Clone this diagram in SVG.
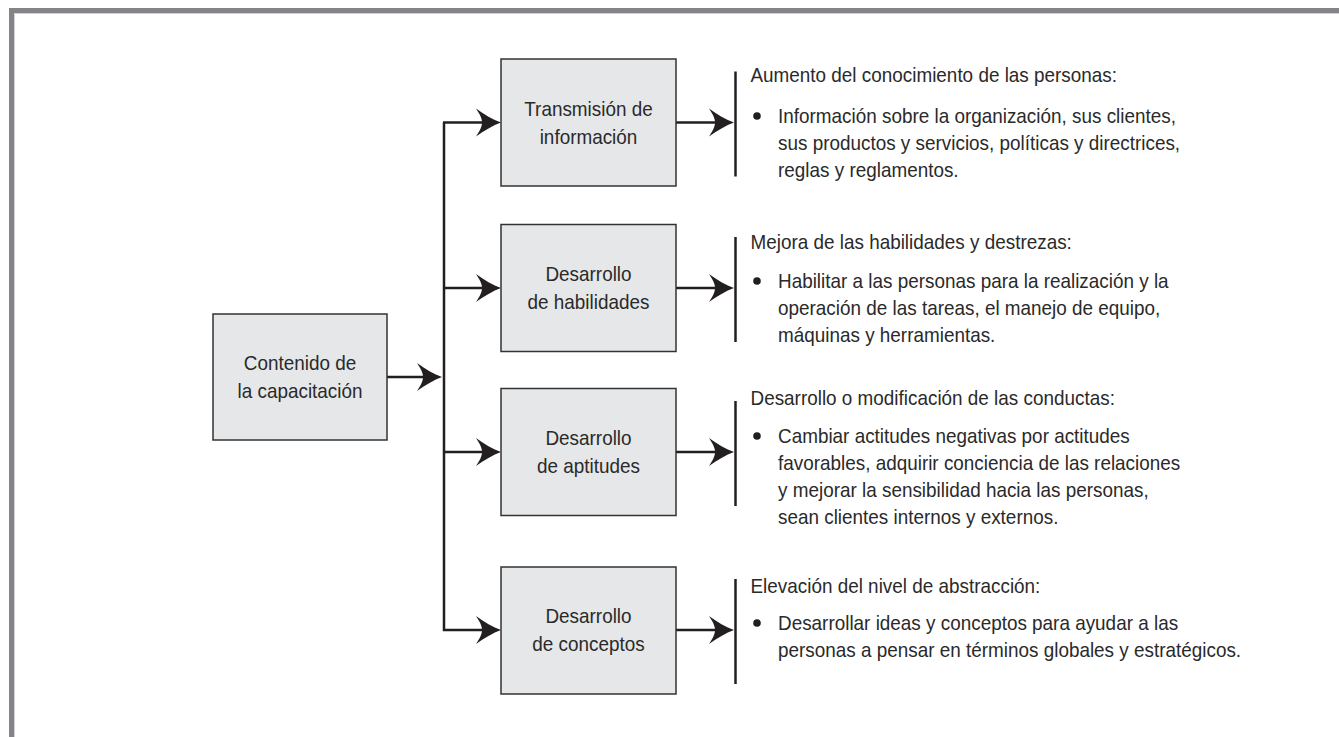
<svg xmlns="http://www.w3.org/2000/svg" width="1339" height="737" viewBox="0 0 1339 737">
<style>
.box{fill:#e6e7e8;stroke:#333;stroke-width:1.5}
.ln{fill:none;stroke:#231f20;stroke-width:2.5}
.bar{stroke:#231f20;stroke-width:2.5}
.t{font-family:"Liberation Sans",Arial,sans-serif;font-size:21px;fill:#2a2a2a}
.c{text-anchor:middle}
.dot{fill:#231f20}
</style>
<defs>
<marker id="ah" markerUnits="userSpaceOnUse" markerWidth="30" markerHeight="30" refX="15" refY="0" orient="auto" overflow="visible">
<path d="M25,0 C17,-3 8,-8 0,-14 C4,-8 6,-4 6,0 C6,4 4,8 0,14 C8,8 17,3 25,0 Z" fill="#231f20"/>
</marker>
</defs>
<rect width="1339" height="737" fill="#fff"/>
<g id="frame">
<path d="M11.5,737 V10.5 H1339" fill="none" stroke="#848488" stroke-width="5"/>
<path d="M14.5,737 V13.5 H1339" fill="none" stroke="#d0d0d2" stroke-width="1"/>
</g>
<g id="connectors">
<line class="ln" x1="387" y1="377" x2="432" y2="377" marker-end="url(#ah)"/>
<path class="ln" d="M444,122.5 V630 H491" marker-end="url(#ah)"/>
<line class="ln" x1="443" y1="122.5" x2="491" y2="122.5" marker-end="url(#ah)"/>
<line class="ln" x1="444" y1="288" x2="491" y2="288" marker-end="url(#ah)"/>
<line class="ln" x1="444" y1="452" x2="491" y2="452" marker-end="url(#ah)"/>
<line class="ln" x1="676" y1="122.5" x2="724" y2="122.5" marker-end="url(#ah)"/>
<line class="ln" x1="676" y1="288" x2="724" y2="288" marker-end="url(#ah)"/>
<line class="ln" x1="676" y1="452" x2="724" y2="452" marker-end="url(#ah)"/>
<line class="ln" x1="676" y1="630" x2="724" y2="630" marker-end="url(#ah)"/>
<line class="bar" x1="735.5" y1="71.5" x2="735.5" y2="176.5"/>
<line class="bar" x1="735.5" y1="237" x2="735.5" y2="342"/>
<line class="bar" x1="735.5" y1="401" x2="735.5" y2="506"/>
<line class="bar" x1="735.5" y1="579" x2="735.5" y2="684"/>
</g>
<g id="n0">
<rect class="box" x="213" y="314" width="174" height="126"/>
<text class="t c" transform="translate(300,370) scale(0.9,1)"><tspan x="0">Contenido de</tspan><tspan x="0" dy="28">la capacitación</tspan></text>
</g>
<g id="n1">
<rect class="box" x="501" y="59" width="175" height="127"/>
<text class="t c" transform="translate(588.5,116) scale(0.9,1)"><tspan x="0">Transmisión de</tspan><tspan x="0" dy="28">información</tspan></text>
</g>
<g id="n2">
<rect class="box" x="501" y="224.5" width="175" height="127"/>
<text class="t c" transform="translate(588.5,281) scale(0.9,1)"><tspan x="0">Desarrollo</tspan><tspan x="0" dy="28">de habilidades</tspan></text>
</g>
<g id="n3">
<rect class="box" x="501" y="388.5" width="175" height="127"/>
<text class="t c" transform="translate(588.5,445) scale(0.9,1)"><tspan x="0">Desarrollo</tspan><tspan x="0" dy="28">de aptitudes</tspan></text>
</g>
<g id="n4">
<rect class="box" x="501" y="567" width="175" height="127"/>
<text class="t c" transform="translate(588.5,623) scale(0.9,1)"><tspan x="0">Desarrollo</tspan><tspan x="0" dy="28">de conceptos</tspan></text>
</g>
<g id="d1">
<text class="t" transform="translate(750.5,82) scale(0.9,1)">Aumento del conocimiento de las personas:</text>
<circle class="dot" cx="757" cy="116" r="3.8"/>
<text class="t" transform="translate(778,123) scale(0.9,1)"><tspan x="0">Información sobre la organización, sus clientes,</tspan><tspan x="0" dy="27">sus productos y servicios, políticas y directrices,</tspan><tspan x="0" dy="27">reglas y reglamentos.</tspan></text>
</g>
<g id="d2">
<text class="t" transform="translate(750.5,249) scale(0.9,1)">Mejora de las habilidades y destrezas:</text>
<circle class="dot" cx="757" cy="281" r="3.8"/>
<text class="t" transform="translate(778,288) scale(0.9,1)"><tspan x="0">Habilitar a las personas para la realización y la</tspan><tspan x="0" dy="27">operación de las tareas, el manejo de equipo,</tspan><tspan x="0" dy="27">máquinas y herramientas.</tspan></text>
</g>
<g id="d3">
<text class="t" transform="translate(750.5,405) scale(0.9,1)">Desarrollo o modificación de las conductas:</text>
<circle class="dot" cx="757" cy="436" r="3.8"/>
<text class="t" transform="translate(778,443) scale(0.9,1)"><tspan x="0">Cambiar actitudes negativas por actitudes</tspan><tspan x="0" dy="27">favorables, adquirir conciencia de las relaciones</tspan><tspan x="0" dy="27">y mejorar la sensibilidad hacia las personas,</tspan><tspan x="0" dy="27">sean clientes internos y externos.</tspan></text>
</g>
<g id="d4">
<text class="t" transform="translate(750.5,593) scale(0.9,1)">Elevación del nivel de abstracción:</text>
<circle class="dot" cx="757" cy="623" r="3.8"/>
<text class="t" transform="translate(778,630) scale(0.9,1)"><tspan x="0">Desarrollar ideas y conceptos para ayudar a las</tspan><tspan x="0" dy="27">personas a pensar en términos globales y estratégicos.</tspan></text>
</g>
</svg>
